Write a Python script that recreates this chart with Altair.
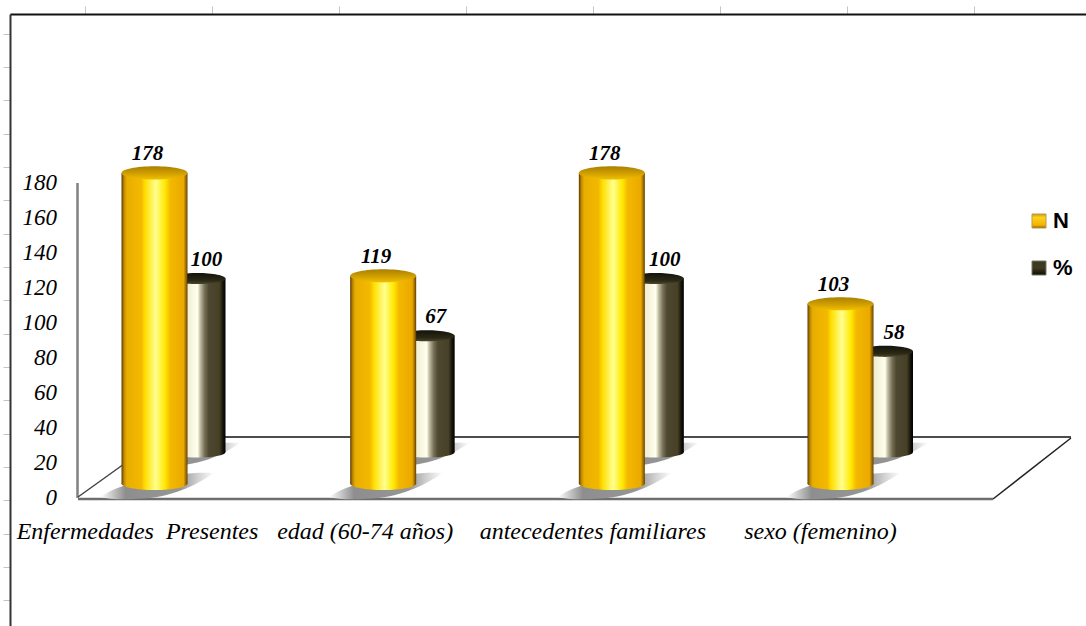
import altair as alt
import pandas as pd

# Risk factors and their counts / percentages
categories = ["Enfermedades\u00a0\u00a0Presentes", "edad (60-74 años)", "antecedentes familiares", "sexo (femenino)"]
n_values = [178, 119, 178, 103]
pct_values = [100, 67, 100, 58]
series_names = ["N", "%"]
y_ticks = [0, 20, 40, 60, 80, 100, 120, 140, 160, 180]
frame_top_ticks = [85, 212, 339, 466, 593, 720, 847, 974]
frame_left_ticks = [34, 67, 100, 134, 167, 200, 234, 267, 300, 334, 367, 400, 434, 467, 500, 534, 567, 600]

SERIF = "Liberation Serif"
ELLIPSE = "M-1,0 A1,0.2 0 1,1 1,0 A1,0.2 0 1,1 -1,0 Z"
SHADOW = "M-1,0.22 C-0.6,-0.08 0.5,-0.24 1,-0.2 C0.65,0.02 0.25,0.24 -0.35,0.25 C-0.6,0.27 -0.85,0.26 -1,0.22 Z"


def gradient(stops, vertical=False):
    return alt.LinearGradient(
        gradient="linear",
        stops=[alt.GradientStop(offset=o, color=c) for o, c in stops],
        x1=0, x2=0 if vertical else 1, y1=0, y2=1 if vertical else 0,
    )


GOLD_BODY = gradient([(0, "#5c3a00"), (0.04, "#c08a00"), (0.08, "#e8ae00"), (0.30, "#f3b900"), (0.36, "#ffdf00"),
                      (0.52, "#ffff90"), (0.66, "#ffe800"), (0.74, "#f3b800"), (0.94, "#eaa900"),
                      (0.985, "#8a5c00"), (1, "#5c3a00")])
GOLD_TOP = gradient([(0, "#a98000"), (0.6, "#d5a200"), (1, "#f0c000")], vertical=True)
OLIVE_BODY = gradient([(0, "#4a4228"), (0.3, "#f0ecd0"), (0.5, "#ffffee"), (0.55, "#c0bca0"), (0.625, "#77715a"),
                       (0.70, "#4e4830"), (0.89, "#474027"), (0.96, "#111108"), (1, "#000000")])
OLIVE_TOP = gradient([(0, "#14130a"), (0.7, "#2c2915"), (1, "#4c472e")], vertical=True)
SHADOW_FILL = gradient([(0, "#ffffff"), (0.12, "#c0c0c0"), (0.22, "#8e8e8e"), (0.7, "#969696"),
                        (0.85, "#cfcfcf"), (1, "#ffffff")])

bars = pd.DataFrame({"category": categories, "n": n_values, "pct": pct_values, "base": [0] * len(categories)})
legend_rows = pd.DataFrame({"series": series_names})


def cylinder(field, x_range, y_range, bar_width, body, top, shadow_width, shadow_dx, label_dx):
    x = alt.X("category:N", sort=categories, axis=None,
              scale=alt.Scale(type="point", domain=categories, range=x_range, padding=0))
    y = alt.Y(f"{field}:Q", axis=None, scale=alt.Scale(domain=[0, 180], range=y_range))
    y_base = alt.Y("base:Q", axis=None, scale=alt.Scale(domain=[0, 180], range=y_range))
    y2 = alt.Y2("base:Q")
    chart = alt.Chart(bars)
    return [
        chart.mark_point(shape=SHADOW, filled=True, fill=SHADOW_FILL, size=shadow_width ** 2, opacity=1,
                         strokeWidth=0, xOffset=shadow_dx, yOffset=1).encode(x=x, y=y_base),
        chart.mark_point(shape=ELLIPSE, filled=True, fill=body, size=bar_width ** 2, opacity=1,
                         strokeWidth=0).encode(x=x, y=y_base),
        chart.mark_bar(width=bar_width, fill=body, strokeWidth=0, opacity=1).encode(x=x, y=y, y2=y2),
        chart.mark_point(shape=ELLIPSE, filled=True, fill=top, size=bar_width ** 2, opacity=1,
                         strokeWidth=0).encode(x=x, y=y),
        chart.mark_text(font=SERIF, fontSize=21, fontStyle="italic", fontWeight="bold", color="#000000",
                        dx=label_dx, dy=-18.5).encode(x=x, y=y, text=f"{field}:Q"),
    ]


def line(x1, y1, x2, y2, color, width):
    return alt.Chart(bars.head(1)).mark_rule(color=color, strokeWidth=width).encode(
        x=alt.value(x1), y=alt.value(y1), x2=alt.value(x2), y2=alt.value(y2))


# Sheet border with its ruler ticks
frame_top = alt.Chart(pd.DataFrame({"t": frame_top_ticks})).mark_point(opacity=0).encode(
    x=alt.X("t:Q", scale=alt.Scale(domain=[10, 1086], range=[10, 1086]),
            axis=alt.Axis(orient="top", offset=-14, values=frame_top_ticks, labels=False, title=None, grid=False,
                          domainColor="#111111", domainWidth=2, tickColor="#c4c4c4", tickSize=8, tickWidth=1)))
frame_left = alt.Chart(pd.DataFrame({"t": frame_left_ticks})).mark_point(opacity=0).encode(
    y=alt.Y("t:Q", scale=alt.Scale(domain=[14, 626], range=[14, 626]),
            axis=alt.Axis(orient="left", offset=-10, values=frame_left_ticks, labels=False, title=None, grid=False,
                          domainColor="#333333", domainWidth=2, tickColor="#c4c4c4", tickSize=7, tickWidth=1)))

# Value axis and category axis of the chart
value_axis = alt.Chart(pd.DataFrame({"t": y_ticks})).mark_point(opacity=0).encode(
    y=alt.Y("t:Q", scale=alt.Scale(domain=[0, 180], range=[497.5, 182.5]),
            axis=alt.Axis(orient="left", offset=-77, values=y_ticks, title=None, grid=False, ticks=False,
                          domainColor="#808080", domainWidth=2.5, labelPadding=20.5,
                          labelFont=SERIF, labelFontSize=23, labelFontStyle="italic", labelColor="#000000")))
category_axis = alt.Chart(bars).mark_point(opacity=0).encode(
    x=alt.X("category:N", sort=categories,
            scale=alt.Scale(type="point", domain=categories, range=[137, 820], padding=0),
            axis=alt.Axis(orient="bottom", offset=-127, title=None, grid=False, ticks=False, domain=False,
                          labelAngle=0, labelPadding=32, labelBaseline="middle", labelLimit=400,
                          labelFont=SERIF, labelFontSize=24, labelFontStyle="italic", labelColor="#000000")))

# Floor of the 3-D plot
floor = [
    line(1071, 437, 195, 437, "#111111", 1.5),
    line(78, 497, 124, 464, "#444444", 1.5),
    line(1071, 438, 993, 499, "#222222", 1.5),
    line(78, 499, 993, 499, "#6e6e6e", 2.5),
]

# Legend entries
legend_y = alt.Y("series:N", sort=series_names, axis=None,
                 scale=alt.Scale(type="point", domain=series_names, range=[221, 268], padding=0))
legend_x = alt.value(1039)
swatch_fill = {
    "N": gradient([(0, "#c99a10"), (0.25, "#ffd21a"), (0.8, "#f2b400"), (1, "#8a6200")], vertical=True),
    "%": gradient([(0, "#3a3722"), (0.5, "#403a20"), (1, "#0c0c06")], vertical=True),
}
swatch_edge = {"N": "#b99a50", "%": "#77775f"}
legend = []
for name in series_names:
    rows = alt.Chart(legend_rows[legend_rows.series == name])
    legend.append(rows.mark_point(shape="square", filled=True, fill=swatch_fill[name], size=196, opacity=1,
                                  stroke=swatch_edge[name], strokeWidth=1).encode(x=legend_x, y=legend_y))
    legend.append(rows.mark_text(font="Liberation Sans", fontSize=22, fontWeight="bold", color="#000000",
                                 align="left", dx=14).encode(x=legend_x, y=legend_y, text="series:N"))

pct_layers = cylinder("pct", [197.5, 885], [452, 139.7], 56, OLIVE_BODY, OLIVE_TOP, 100, -7, 9)
n_layers = cylinder("n", [154.5, 840.5], [483.5, 169.4], 66, GOLD_BODY, GOLD_TOP, 114, 3, -7)

chart = alt.layer(
    frame_top, frame_left, value_axis, category_axis,
    *floor, *pct_layers, *n_layers, *legend,
).resolve_scale(x="independent", y="independent").properties(
    width=1086, height=626, padding=0, background="#ffffff",
    autosize=alt.AutoSizeParams(type="none"),
).configure_view(stroke=None)

chart.save("out.html", embed_options={"renderer": "svg", "actions": False})
